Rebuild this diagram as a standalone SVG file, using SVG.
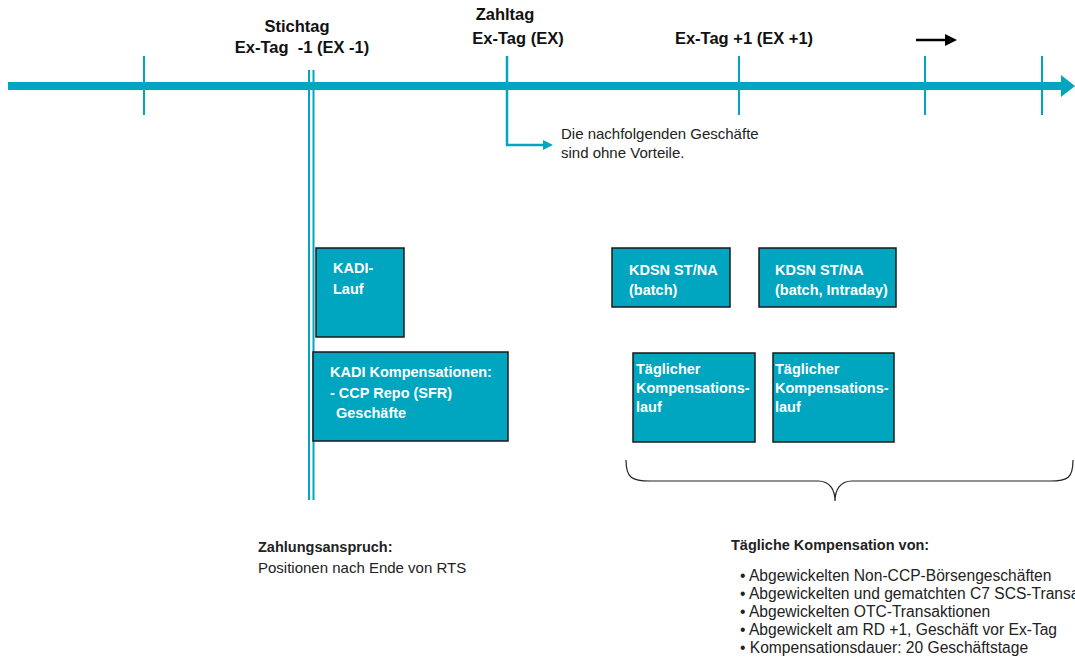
<svg xmlns="http://www.w3.org/2000/svg" width="1075" height="658" viewBox="0 0 1075 658">
<style>
.hd{font-family:"Liberation Sans",Arial,sans-serif;font-weight:bold;font-size:16.5px;fill:#111}
.tx{font-family:"Liberation Sans",Arial,sans-serif;font-size:15px;fill:#222}
.bl{font-family:"Liberation Sans",Arial,sans-serif;font-size:15.6px;fill:#222}
.bt{font-family:"Liberation Sans",Arial,sans-serif;font-size:14.5px;font-weight:bold;fill:#222}
.box{fill:#00a5bf;stroke:#1a1a1a;stroke-width:1.5}
.bx{font-family:"Liberation Sans",Arial,sans-serif;font-weight:bold;font-size:14.5px;fill:#fff}
.tick{stroke:#00a5bf;stroke-width:2}
</style>
<defs>
<marker id="ah" markerWidth="10" markerHeight="10" refX="0" refY="5" orient="auto" markerUnits="userSpaceOnUse"><path d="M0,0 L10,5 L0,10 Z" fill="#00a5bf"/></marker>
</defs>
<rect width="1075" height="658" fill="#fff"/>
<g id="connectors">
<line x1="8" y1="86" x2="1062" y2="86" stroke="#00a5bf" stroke-width="8"/>
<path d="M1061,75 L1075,86 L1061,97 Z" fill="#00a5bf"/>
<line class="tick" x1="144" y1="56" x2="144" y2="115"/>
<line class="tick" x1="739" y1="56" x2="739" y2="115"/>
<line class="tick" x1="925" y1="56" x2="925" y2="115"/>
<line class="tick" x1="1042" y1="56" x2="1042" y2="115"/>
<path d="M507,56 L507,145 L543,145" fill="none" stroke="#00a5bf" stroke-width="2.5" marker-end="url(#ah)"/>
<line x1="309" y1="70" x2="309" y2="500" stroke="#00a5bf" stroke-width="2"/>
<line x1="313.5" y1="70" x2="313.5" y2="500" stroke="#00a5bf" stroke-width="2"/>
<line x1="916" y1="40" x2="947" y2="40" stroke="#000" stroke-width="2.5"/>
<path d="M945,34 L957,40 L945,46 Z" fill="#000"/>
<path d="M626,460 C626,478 632,481 650,481 L818,481 C830,481 835,490 835,501 C835,490 840,481 852,481 L1050,481 C1068,481 1073,478 1073,460" fill="none" stroke="#222" stroke-width="1.2"/>
</g>
<g id="labels">
<text class="hd" x="297" y="32" text-anchor="middle">Stichtag</text>
<text class="hd" x="302" y="53" text-anchor="middle" xml:space="preserve">Ex-Tag  -1 (EX -1)</text>
<text class="hd" x="505" y="20" text-anchor="middle">Zahltag</text>
<text class="hd" x="518" y="44" text-anchor="middle">Ex-Tag (EX)</text>
<text class="hd" x="744" y="44" text-anchor="middle">Ex-Tag +1 (EX +1)</text>
<text class="tx" x="561" y="139">Die nachfolgenden Geschäfte</text>
<text class="tx" x="561" y="158">sind ohne Vorteile.</text>
</g>
<g id="kadi-lauf">
<rect class="box" x="316" y="248" width="88" height="89"/>
<text class="bx" x="333" y="273">KADI-</text>
<text class="bx" x="333" y="294">Lauf</text>
</g>
<g id="kadi-komp">
<rect class="box" x="313" y="352" width="195" height="89"/>
<text class="bx" x="330" y="377">KADI Kompensationen:</text>
<text class="bx" x="330" y="398">- CCP Repo (SFR)</text>
<text class="bx" x="336" y="418">Geschäfte</text>
</g>
<g id="kdsn1">
<rect class="box" x="612" y="248" width="118" height="59"/>
<text class="bx" x="629" y="275">KDSN ST/NA</text>
<text class="bx" x="629" y="295">(batch)</text>
</g>
<g id="kdsn2">
<rect class="box" x="759" y="248" width="137" height="59"/>
<text class="bx" x="775" y="275">KDSN ST/NA</text>
<text class="bx" x="775" y="295">(batch, Intraday)</text>
</g>
<g id="taeglich1">
<rect class="box" x="633" y="353" width="122" height="89"/>
<text class="bx" x="636" y="374">Täglicher</text>
<text class="bx" x="636" y="393">Kompensations-</text>
<text class="bx" x="636" y="412">lauf</text>
</g>
<g id="taeglich2">
<rect class="box" x="773" y="353" width="121" height="89"/>
<text class="bx" x="775" y="374">Täglicher</text>
<text class="bx" x="775" y="393">Kompensations-</text>
<text class="bx" x="775" y="412">lauf</text>
</g>
<g id="notes">
<text class="bt" x="258" y="552">Zahlungsanspruch:</text>
<text class="tx" x="258" y="573">Positionen nach Ende von RTS</text>
<text class="bt" x="731" y="550">Tägliche Kompensation von:</text>
<text class="bl" x="740" y="581">• Abgewickelten Non-CCP-Börsengeschäften</text>
<text class="bl" x="740" y="599">• Abgewickelten und gematchten C7 SCS-Transaktionen</text>
<text class="bl" x="740" y="617">• Abgewickelten OTC-Transaktionen</text>
<text class="bl" x="740" y="635">• Abgewickelt am RD +1, Geschäft vor Ex-Tag</text>
<text class="bl" x="740" y="653">• Kompensationsdauer: 20 Geschäftstage</text>
</g>
</svg>
